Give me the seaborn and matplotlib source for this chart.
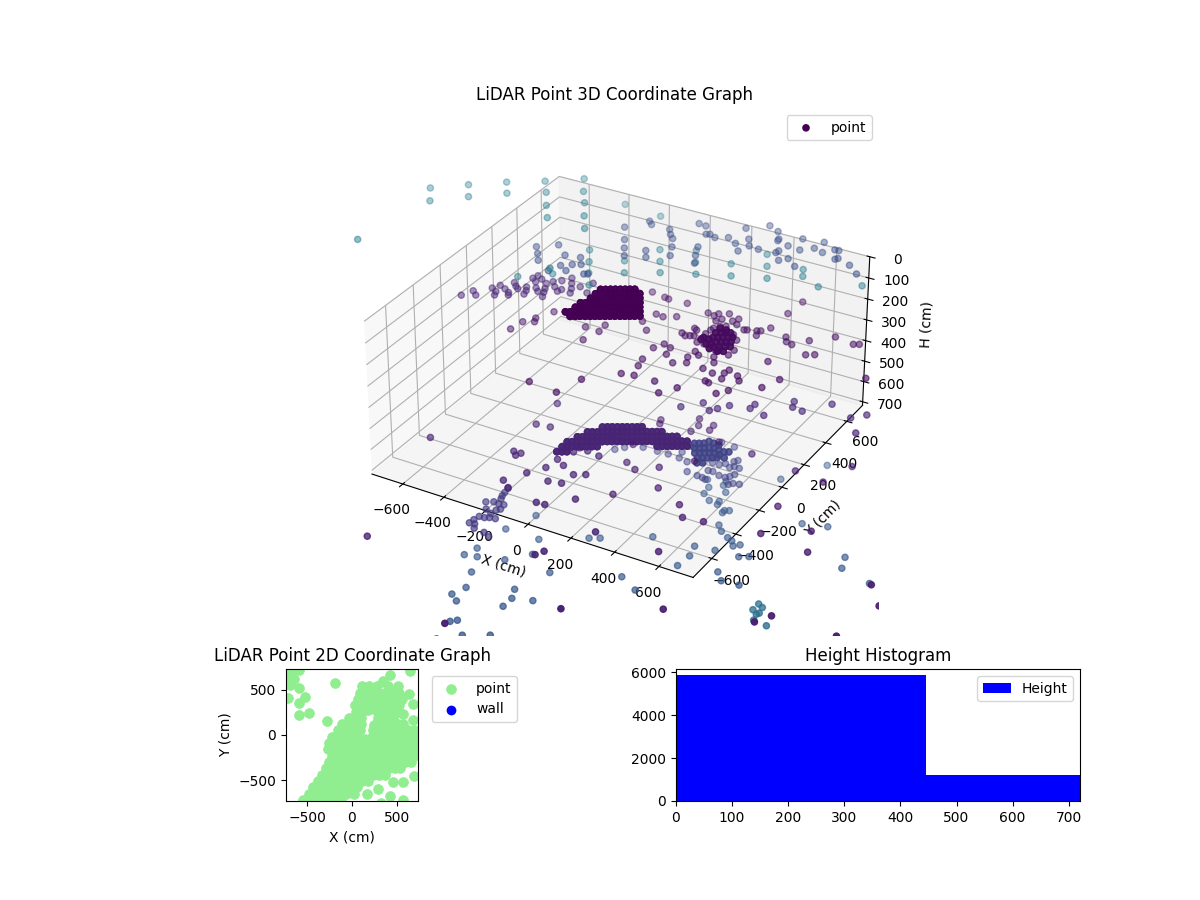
import matplotlib
matplotlib.use("Agg")
import matplotlib.pyplot as plt
import numpy as np
import seaborn as sns

# readings below were taken against a +-720 box, the real axis runs to +-752
READING_SCALE = 752 / 720

# 3D point groups: (x, y) in cm, one height and one colour value per group
back_blob = [(-337,407),(-319,417),(-302,428),(-285,438),(-267,448),(-250,458),(-233,468),(-216,478),
    (-336,364),(-319,374),(-301,384),(-284,395),(-267,405),(-249,415),(-232,425),(-215,435),(-198,445),(-180,456),
    (-334,321),(-317,331),(-300,341),(-282,351),(-265,362),(-248,372),(-230,382),(-213,392),(-196,402),(-179,412),(-161,423),
    (-350,268),(-332,278),(-315,288),(-298,298),(-281,308),(-263,318),(-246,329),(-229,339),(-211,349),(-194,359),(-177,369),(-160,379),(-142,390),
    (-349,225),(-332,235),(-314,245),(-297,255),(-280,265),(-263,275),(-245,285),(-228,296),(-211,306),(-193,316),(-176,326),(-159,336),(-142,346),(-124,357),
    (-364,172),(-347,182),(-330,193),(-313,203),(-295,213),(-278,223),(-261,233),(-244,243),(-226,253),(-209,264),(-192,274),(-174,284),(-157,294),(-140,304),(-123,314),(-105,325),
    (-328,149),(-311,160),(-294,170),(-276,180),(-259,190),(-242,200),(-225,210),(-207,220),(-190,231),(-173,241),(-155,251),(-138,261),(-121,271),(-104,281),(-86,292)]
back_blob_h = 300
back_blob_c = 0.0
back_blob_hits = 5

front_arc = [(-129,64),(-112,75),(-95,85),(-77,95),(-60,105),(-43,115),(-25,125),(-8,135),(9,146),
    (-162,1),(-145,11),(-127,21),(-110,31),(-93,42),(-76,52),(-58,62),(-41,72),(-24,82),(-6,92),(11,102),(28,113),(45,123),(63,133),(80,143),(97,153),
    (-178,-52),(-160,-42),(-143,-32),(-126,-22),(-108,-12),(-91,-2),(-74,9),(-57,19),(-39,29),(-22,39),(-5,49),(13,59),(30,69),(47,80),(64,90),(82,100),(99,110),(116,120),(134,130),(151,141),(168,151),
    (-194,-105),(-177,-95),(-160,-84),(-142,-74),(-125,-64),(-108,-54),(-90,-44),(-73,-34),(-56,-23),(-39,-13),(-21,-3),(-4,7),(13,17),(31,27),(48,37),(65,48),(82,58),(100,68),(117,78),(134,88),(152,98),(169,109),(186,119),(203,129),(221,139),
    (-192,-148),(-175,-138),(-158,-128),(-141,-117),(-123,-107),(-106,-97),(-89,-87),(-71,-77),
    (136,45),(153,55),(171,65),(188,76),(205,86),(222,96),(240,106),(-191,-191),(-173,-181),(-156,-171)]
front_arc_h = 735
front_arc_c = 0.1
front_arc_hits = 4

top_layer = [(-1237,519),(-1114,626),(-987,728),(-850,817),(-718,920),(-1172,417),(-1053,531),(-930,639),(-791,729),(-659,815),
    (-727,625),(-601,726),(-665,531),(-541,621),(-481,524),(-1235,-24),(-424,155)]
top_layer_h = 100
top_layer_c = 0.42

back_wall_teal = [(-553,684),(-501,592),(-452,506),(-397,416),(-690,332),(-577,424),(-635,1127),(-447,1105),(-298,834),(-246,742),(-197,656),(-377,673),(-325,581),
    (-162,904),(-114,810),(-62,718),(21,872),(71,778),(112,1022),(161,927),(210,833),(304,977),(330,922),(426,873),(578,971)]
back_wall_teal_h = 300
back_wall_teal_c = 0.42

upper_layer = [(-373,878),(-351,855),(-437,778),(-263,854),(-238,816),(-212,788),(-182,963),(-147,958),(-110,892),(-96,900),(-64,884),
    (-381,680),(-344,614),(-256,639),(-178,721),(-85,775),(-226,587),(-147,650),(-310,555),(-57,703),(-28,642),(9,1023),(-15,912),(35,880),
    (65,942),(95,889),(76,826),(142,881),(85,1094),(139,1064),(173,1005),(176,990),(234,970),(221,911),(218,891),(259,836),(286,869),(340,822),
    (259,1056),(293,961),(338,1005),(384,988),(350,1073),(418,1035),(435,1037),(463,973),(455,961),(530,943),(588,889),
    (-665,442),(-594,502),(-629,393),(-596,343),(-524,437),(-458,451),(-493,350),(-456,381),(-425,400),(-513,287),(-451,323),(-373,334),(-359,342)]
upper_layer_h = 200
upper_layer_c = 0.24

band_layer = [(-805,80),(-783,136),(-754,110),(-728,195),(-699,177),(-688,149),(-712,231),(-679,215),(-650,196),(-639,177),(-674,280),(-652,257),(-634,242),
    (-611,273),(-596,246),(-588,216),(-628,351),(-621,380),(-602,330),(-573,286),(-551,264),(-592,362),(-556,340),(-538,299),(-526,270),(-511,235),
    (-540,367),(-511,332),(-482,305),(-513,392),(-475,326),(-489,432),(-466,392),(-444,353),(-429,318),(-421,385),(-370,353),(-390,437)]
band_layer_h = 300
band_layer_c = 0.1

mid_layer = [(-495,297),(-532,214),(-520,185),(-562,161),(-573,85),(-318,252),(-251,247),(-256,305),(-272,156),(-285,-238),(-116,-120),(-150,-255),
    (-228,647),(-161,633),(-140,628),(-55,634),(-121,490),(-86,484),(-38,513),(-140,409),(-89,352),(-205,484),
    (59,605),(91,597),(100,620),(138,642),(192,622),(178,595),(207,577),(119,561),(133,587),(73,464),(87,455),(47,405),(69,391),(86,401),(100,409),
    (136,369),(167,370),(136,484),(133,447),(139,503),(155,530),(176,542),(234,497),(267,463),(297,385),(295,340),(242,362),(232,347),(166,299),(192,279),
    (162,244),(180,202),(252,297),(274,257),
    (253,553),(264,559),(302,572),(316,580),(340,621),(318,537),(428,585),(447,552),(476,542),(523,606),(601,686),(690,668),(711,680),(562,496),(593,515),
    (456,373),(353,883),(345,764),(852,448),(562,269),(530,179),(428,180),(405,211),(355,235),(349,205),(361,160),(427,93),(396,49),(308,181),(258,195),
    (331,107),(313,113),(243,11),(141,12),(199,-59),(48,11),(-3,-2),(25,85),(13,140),(6,241),(29,289),(65,275),(77,221),(132,174)]
mid_layer_h = 400
mid_layer_c = 0.04

mid_core = [(165,474),(182,484),(200,494),(217,504),(173,435),(190,445),(207,455),(224,465),(242,475),(202,408),(219,418),(237,428),(254,438),
    (211,369),(231,381),(252,393),(269,403),(242,344),(263,356),(141,416),(167,414),(139,397),(174,375),(192,385),(204,348),(191,516),(163,517)]
mid_core_h = 400
mid_core_c = 0.03
mid_core_hits = 3

shelf_layer = [(249,32),(311,103),(360,63),(381,92),(411,136),(492,157),(494,194),(563,137),(618,292),(633,249),(679,241),(757,348),(867,290),(912,342),(934,198)]
shelf_layer_h = 500
shelf_layer_c = 0.11

low_layer = [(-270,-53),(-260,-232),(-200,-223),(-568,-527),(-229,-450),(-207,-472),(-197,-449),(-102,-560),(-152,-650),(-108,-686),(-50,-416),(-58,-490),(-7,-443),
    (0,-570),(53,-557),(61,-481),(102,-457),(157,-627),(40,-721),(76,-718),(338,-784),(239,-991),(222,-1027),(-24,-338),(-19,-300),(20,-304),(77,-315),(484,-1277)]
low_layer_h = 600
low_layer_c = 0.1

floor_layer = [(-487,-1093),(81,-1426),(433,-307),(487,-380),(571,-366),(768,-127),(799,-329),(958,-219),(1011,-354),(1313,-430),(1397,-539),(1049,-857),
    (1085,-792),(1346,-788),(1487,-696),(173,-371),(232,-109),(303,-243),(57,-11),(209,193),(502,163),(331,1),(710,136),(841,117),(889,277),(346,177),
    (723,-952),(523,-631),(103,-141),(157,-171),(60,211),(71,182),(192,296),(214,248),(270,238),(266,279)]
floor_layer_h = 720
floor_layer_c = 0.08

ring_outer = [(208,464),(271,457),(333,372),(323,356),(366,321),(342,323),(329,307),(300,325),(282,306),(251,305),(284,246),(264,243),(286,178),(269,184),(244,187),
    (320,232),(349,231),(362,247),(372,270),(423,214),(398,207),(385,191),(194,193),(157,259),(115,269),(114,374),(61,273),(103,315),(12,270),(-54,267),(-120,228),(-147,195)]
ring_outer_h = 925
ring_outer_c = 0.2

ring_core = [(114,400),(131,410),(148,421),(159,444),(183,441),(208,438),(133,367),(150,377),(167,388),(185,398),(202,408),(226,405),(252,402),(152,334),(169,344),(186,355),(204,365),
    (221,375),(245,372),(269,412),(180,307),(197,317),(215,328),(232,338),(249,348),(274,362),(216,284),(196,272)]
ring_core_h = 925
ring_core_c = 0.2
ring_core_hits = 3

left_cluster = [(-304,-406),(-300,-431),(-292,-453),(-332,-502),(-305,-486),(-280,-489),(-259,-485),(-303,-546),(-271,-563),(-265,-533),(-254,-518),(-298,-604),
    (-276,-601),(-259,-591),(-235,-586),(-304,-634),(-307,-662),(-285,-658),(-270,-685),(-221,-691),(-189,-707),(-309,-374)]
left_cluster_h = 850
left_cluster_c = 0.17

under_layer = [(-226,-300),(42,-335),(80,-313),(-126,-442),(-92,-545),(33,-620),(-279,-444),(-304,-617),(-323,-681),(-271,-668),(-166,-632),(-233,-769),(-194,-869),
    (-217,-934),(-177,-964),(-25,-786),(-2,-843),(-3,-905),(76,-816),(-124,-1090),(-104,-1070),(-35,-1143),(-106,-1211),(56,-1090),(290,-505),(380,-558),(256,-200),
    (440,-329),(448,-246),(432,-176),(516,-162),(597,-289),(637,-336),(711,-328),(652,-134),(618,-155),(563,-99),(583,-78),(541,-69),(516,-57),(473,-29),(443,6),
    (323,146),(280,181),(274,232),(241,282),(352,233),(319,275),(314,307),(366,136),(361,160),(412,93),(412,110),(429,120),(726,181),(825,212),(981,50),(1004,-25),
    (1143,-66),(500,434),(617,625)]
under_layer_h = 1000
under_layer_c = 0.27

teal_under = [(836,-403),(859,-417),(835,-448),(860,-468),(866,-456),(869,-507),(928,-516),(1495,-534)]
teal_under_h = 1000
teal_under_c = 0.36

# 2D panel
plan_points = [(-540,-720),(-470,-720),(-400,-720),(-330,-720),(-260,-720),(-190,-720),(-120,-720),
    (-480,-650),(-410,-650),(-340,-650),(-270,-650),(-200,-650),(-130,-650),(-70,-650),(25,-650),(170,-650),
    (-430,-580),(-360,-580),(-290,-580),(-220,-580),(-150,-580),(-80,-580),(-10,-580),(60,-580),
    (-380,-510),(-310,-510),(-240,-510),(-170,-510),(-100,-510),(-30,-510),(40,-510),(110,-510),(180,-510),
    (-330,-440),(-260,-440),(-190,-440),(-120,-440),(-50,-440),(20,-440),(90,-440),(160,-440),(230,-440),(300,-440),(370,-440),
    (-290,-370),(-220,-370),(-150,-370),(-80,-370),(-10,-370),(60,-370),(130,-370),(200,-370),(270,-370),(340,-370),(410,-370),(480,-370),(530,-370),
    (-250,-300),(-180,-300),(-110,-300),(-40,-300),(30,-300),(100,-300),(170,-300),(240,-300),(310,-300),(380,-300),(450,-300),(520,-300),(590,-300),(660,-300),
    (-220,-230),(-150,-230),(-80,-230),(-10,-230),(60,-230),(130,-230),(200,-230),(270,-230),(340,-230),(410,-230),(480,-230),(550,-230),(620,-230),(690,-230),
    (-270,-160),(-200,-160),(-130,-160),(-60,-160),(10,-160),(80,-160),(150,-160),(220,-160),(290,-160),(360,-160),(430,-160),(500,-160),(570,-160),(640,-160),(710,-160),
    (-260,-90),(-190,-90),(-120,-90),(-50,-90),(20,-90),(90,-90),(160,-90),(230,-90),(300,-90),(370,-90),(440,-90),(510,-90),(580,-90),(650,-90),(720,-90),
    (-220,-20),(-150,-20),(-80,-20),(-10,-20),(60,-20),(140,-45),(220,-20),(290,-20),(360,-20),(430,-20),(500,-20),(570,-20),(640,-20),(710,-20),
    (-160,50),(-90,50),(-20,50),(50,50),(90,50),(230,50),(300,50),(370,50),(440,50),(500,50),(560,60),(620,50),(690,50),
    (-110,120),(-40,120),(30,120),(100,120),(240,110),(300,120),(370,120),(440,120),(510,120),(570,120),(674,172),
    (-30,190),(40,190),(100,190),(290,190),(320,190),(390,190),(460,190),(563,228),
    (40,260),(110,260),(180,275),(240,285),(290,260),(360,260),(430,260),(500,260),
    (30,330),(100,330),(170,330),(240,330),(310,330),(380,330),(450,330),(520,330),
    (70,400),(140,400),(210,400),(280,400),(350,400),(420,400),(490,400),(560,400),
    (90,470),(160,470),(230,470),(300,470),(370,470),(440,470),(520,470),(637,453),
    (110,540),(190,540),(280,540),(400,540),(510,540),
    (339,603),(426,667),(644,715),(674,341),
    (-690,720),(-640,720),(-590,720),(-700,650),(-640,620),(-690,560),(-715,416),(-593,524),(-526,427),(-593,352),(-593,225),(-481,247),(-281,157),(-185,577),
    (450,-520),(563,-520),(293,-603),(426,-674),(570,-719),(322,-757),(693,-457)]
wall_x = []
wall_y = []

# height histogram
height_edges = [0, 446, 892]
height_counts = [5860, 1210]

groups = [(back_blob, back_blob_h, back_blob_c, back_blob_hits), (front_arc, front_arc_h, front_arc_c, front_arc_hits),
          (top_layer, top_layer_h, top_layer_c, 1), (back_wall_teal, back_wall_teal_h, back_wall_teal_c, 1),
          (upper_layer, upper_layer_h, upper_layer_c, 1),
          (band_layer, band_layer_h, band_layer_c, 1), (mid_layer, mid_layer_h, mid_layer_c, 1),
          (mid_core, mid_core_h, mid_core_c, mid_core_hits),
          (shelf_layer, shelf_layer_h, shelf_layer_c, 1), (low_layer, low_layer_h, low_layer_c, 1),
          (floor_layer, floor_layer_h, floor_layer_c, 1), (ring_outer, ring_outer_h, ring_outer_c, 1),
          (ring_core, ring_core_h, ring_core_c, ring_core_hits),
          (left_cluster, left_cluster_h, left_cluster_c, 1), (under_layer, under_layer_h, under_layer_c, 1),
          (teal_under, teal_under_h, teal_under_c, 1)]

# repeated laser hits in the dense walls
px = np.concatenate([[p[0] for p in pts] * n for pts, h, c, n in groups]) * READING_SCALE
py = np.concatenate([[p[1] for p in pts] * n for pts, h, c, n in groups]) * READING_SCALE
ph = np.concatenate([[h] * len(pts) * n for pts, h, c, n in groups])
pc = np.concatenate([[c] * len(pts) * n for pts, h, c, n in groups])

fig = plt.figure(figsize=(12, 9), dpi=100)

# 3D view
ax3d = fig.add_axes([351 / 1200, 1 - 636 / 900, 528 / 1200, 528 / 900], projection="3d")
cmap = sns.color_palette("viridis", as_cmap=True)
ax3d.scatter(px, py, ph, c=pc, cmap=cmap, vmin=0, vmax=1, label="point")
ax3d.set_xlim(-752, 752)
ax3d.set_ylim(-752, 752)
ax3d.set_zlim(718, 0)
ax3d.set_box_aspect((1504, 1504, 718))
ax3d.set_xlabel("X (cm)")
ax3d.set_ylabel("Y (cm)")
ax3d.set_zlabel("H (cm)")
ax3d.set_title("LiDAR Point 3D Coordinate Graph")
ax3d.legend()

# 2D plan
ax2d = fig.add_axes([286 / 1200, 1 - 801 / 900, 132 / 1200, 132 / 900])
sns.scatterplot(x=[p[0] for p in plan_points], y=[p[1] for p in plan_points], color="lightgreen",
                s=50, linewidth=0.5, edgecolor="lightgreen", label="point", ax=ax2d)
ax2d.scatter(wall_x, wall_y, color="blue", label="wall")
ax2d.set_xlim(-733, 733)
ax2d.set_ylim(-733, 733)
ax2d.set_xlabel("X (cm)")
ax2d.set_ylabel("Y (cm)")
ax2d.set_title("LiDAR Point 2D Coordinate Graph")
ax2d.legend(bbox_to_anchor=(1.05, 1), loc="upper left")

# histogram
axh = fig.add_axes([676 / 1200, 1 - 801 / 900, 404 / 1200, 132 / 900])
sns.histplot(x=height_edges[:-1], weights=height_counts, bins=height_edges, color="blue", alpha=1,
             linewidth=0, label="Height", ax=axh)
axh.set_xlim(0, 720)
axh.set_ylim(0, 6140)
axh.set_ylabel("")
axh.set_title("Height Histogram")
axh.legend()

fig.savefig("out.png", dpi=100)
